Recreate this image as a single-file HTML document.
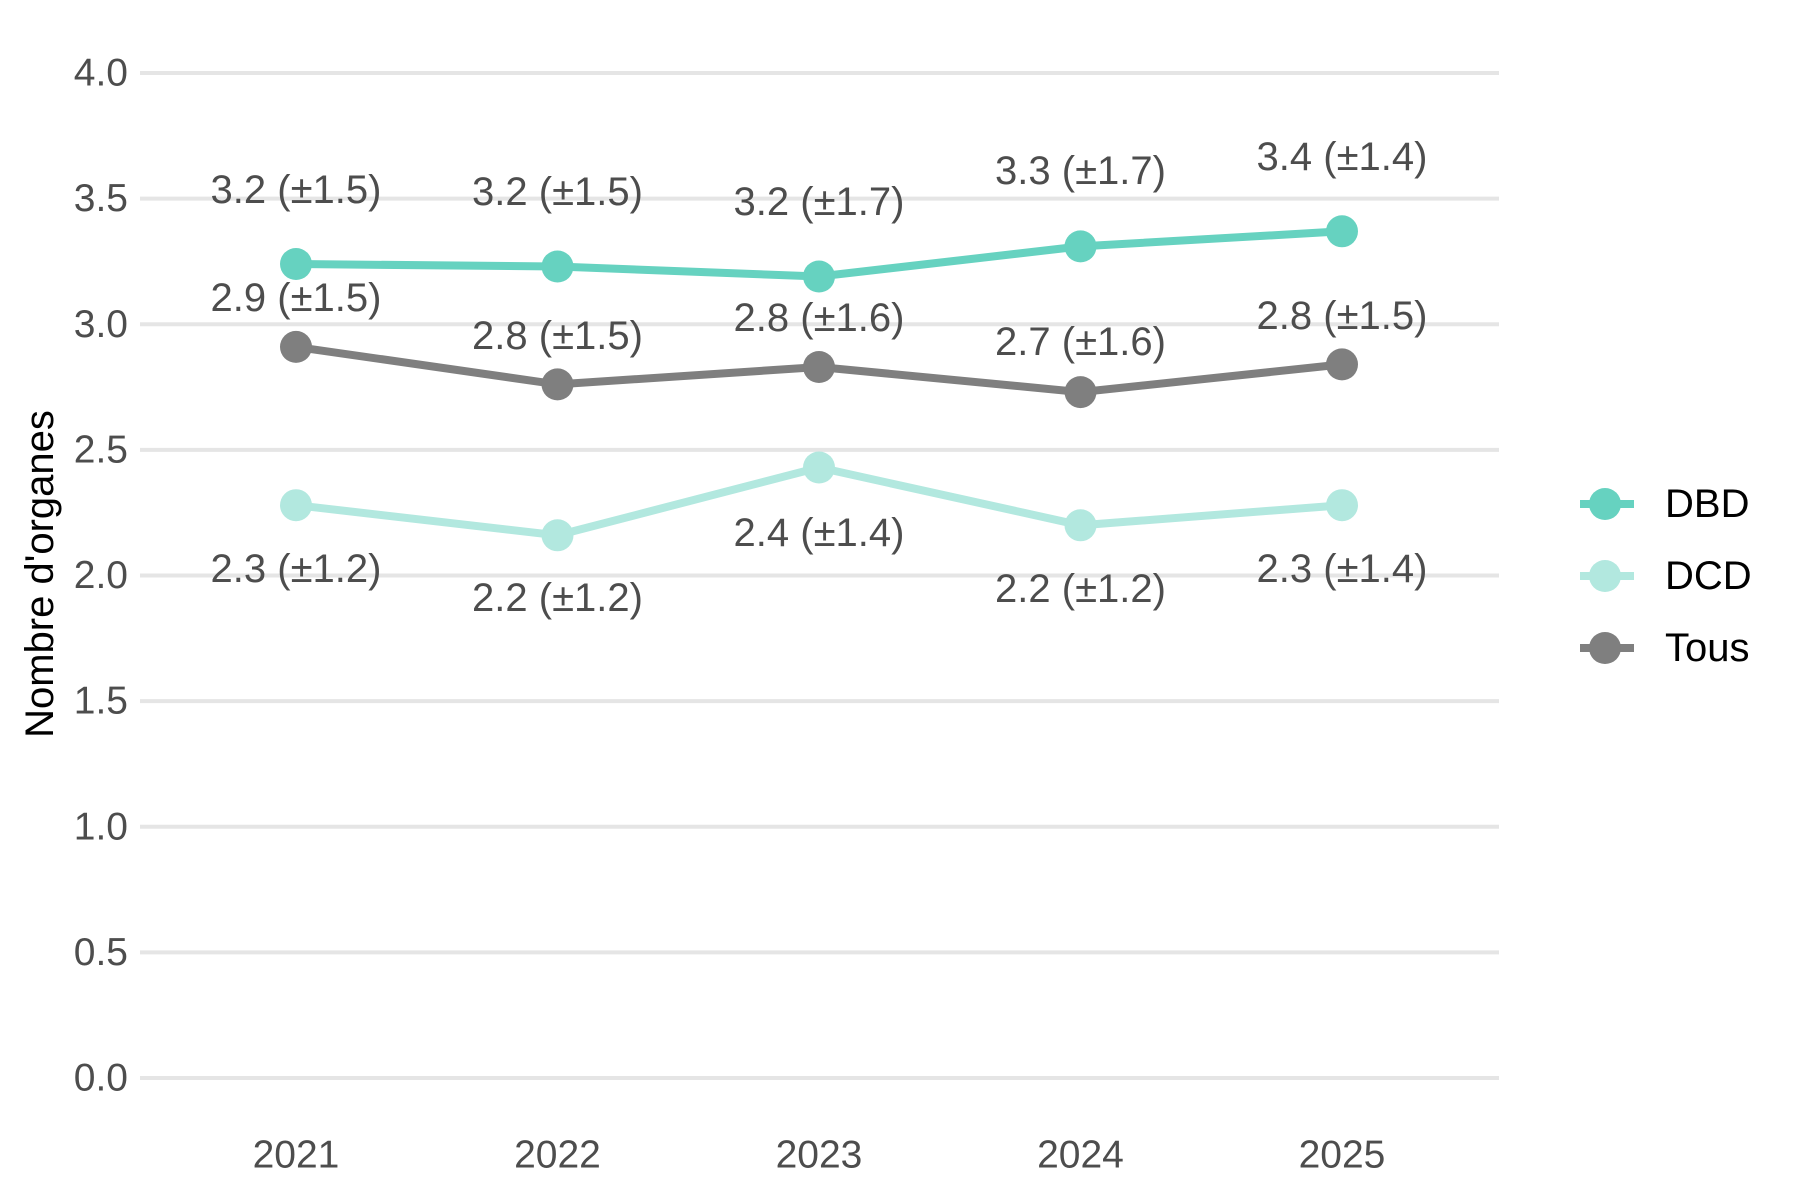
<!DOCTYPE html>
<html><head><meta charset="utf-8"><style>body{margin:0;background:#fff}svg{display:block}</style></head><body>
<svg width="1800" height="1200" xmlns="http://www.w3.org/2000/svg" font-family="Liberation Sans, Arial, sans-serif">
<rect width="1800" height="1200" fill="#fff"/>
<g stroke="#e5e5e5" stroke-width="4">
<line x1="140" x2="1499" y1="1078" y2="1078"/><line x1="140" x2="1499" y1="952.4" y2="952.4"/>
<line x1="140" x2="1499" y1="826.75" y2="826.75"/><line x1="140" x2="1499" y1="701.1" y2="701.1"/>
<line x1="140" x2="1499" y1="575.5" y2="575.5"/><line x1="140" x2="1499" y1="449.9" y2="449.9"/>
<line x1="140" x2="1499" y1="324.25" y2="324.25"/><line x1="140" x2="1499" y1="198.6" y2="198.6"/>
<line x1="140" x2="1499" y1="73" y2="73"/>
</g>
<g fill="#4d4d4d" font-size="39" text-anchor="end" dominant-baseline="central">
<text x="128" y="1078">0.0</text><text x="128" y="952.4">0.5</text><text x="128" y="826.75">1.0</text>
<text x="128" y="701.1">1.5</text><text x="128" y="575.5">2.0</text><text x="128" y="449.9">2.5</text>
<text x="128" y="324.25">3.0</text><text x="128" y="198.6">3.5</text><text x="128" y="73">4.0</text>
</g>
<g fill="#4d4d4d" font-size="39" text-anchor="middle" dominant-baseline="central">
<text x="296" y="1155">2021</text><text x="557.5" y="1155">2022</text><text x="819" y="1155">2023</text><text x="1080.5" y="1155">2024</text><text x="1342" y="1155">2025</text>
</g>
<text transform="translate(40,574) rotate(-90)" font-size="40" text-anchor="middle" dominant-baseline="central" fill="#000">Nombre d'organes</text>
<polyline fill="none" stroke="#7f7f7f" stroke-width="8" points="296,346.9 557.5,384.4 819,367 1080.5,392.1 1342,364.4"/>
<g fill="#7f7f7f"><circle cx="296" cy="346.9" r="16"/><circle cx="557.5" cy="384.4" r="16"/><circle cx="819" cy="367" r="16"/><circle cx="1080.5" cy="392.1" r="16"/><circle cx="1342" cy="364.4" r="16"/></g>
<polyline fill="none" stroke="#b2e8df" stroke-width="8" points="296,505.2 557.5,535.3 819,467.5 1080.5,525.3 1342,505.2"/>
<g fill="#b2e8df"><circle cx="296" cy="505.2" r="16"/><circle cx="557.5" cy="535.3" r="16"/><circle cx="819" cy="467.5" r="16"/><circle cx="1080.5" cy="525.3" r="16"/><circle cx="1342" cy="505.2" r="16"/></g>
<polyline fill="none" stroke="#66d2c0" stroke-width="8" points="296,264 557.5,266.5 819,276.5 1080.5,246.4 1342,231.3"/>
<g fill="#66d2c0"><circle cx="296" cy="264" r="16"/><circle cx="557.5" cy="266.5" r="16"/><circle cx="819" cy="276.5" r="16"/><circle cx="1080.5" cy="246.4" r="16"/><circle cx="1342" cy="231.3" r="16"/></g>
<g fill="#4d4d4d" font-size="40" text-anchor="middle" dominant-baseline="central">
<text x="296" y="190">3.2 (±1.5)</text><text x="557.5" y="192">3.2 (±1.5)</text><text x="819" y="202">3.2 (±1.7)</text><text x="1080.5" y="171">3.3 (±1.7)</text><text x="1342" y="157">3.4 (±1.4)</text>
<text x="296" y="298">2.9 (±1.5)</text><text x="557.5" y="336">2.8 (±1.5)</text><text x="819" y="318">2.8 (±1.6)</text><text x="1080.5" y="342">2.7 (±1.6)</text><text x="1342" y="316">2.8 (±1.5)</text>
<text x="296" y="569">2.3 (±1.2)</text><text x="557.5" y="598">2.2 (±1.2)</text><text x="819" y="533">2.4 (±1.4)</text><text x="1080.5" y="589">2.2 (±1.2)</text><text x="1342" y="569">2.3 (±1.4)</text>
</g>
<g>
<line x1="1580" x2="1634" y1="504" y2="504" stroke="#66d2c0" stroke-width="8"/><circle cx="1605" cy="504" r="16" fill="#66d2c0"/>
<line x1="1580" x2="1634" y1="576" y2="576" stroke="#b2e8df" stroke-width="8"/><circle cx="1605" cy="576" r="16" fill="#b2e8df"/>
<line x1="1580" x2="1634" y1="648" y2="648" stroke="#7f7f7f" stroke-width="8"/><circle cx="1605" cy="648" r="16" fill="#7f7f7f"/>
</g>
<g fill="#000" font-size="40" dominant-baseline="central">
<text x="1665" y="504">DBD</text><text x="1665" y="576">DCD</text><text x="1665" y="648">Tous</text>
</g>
</svg>
</body></html>
